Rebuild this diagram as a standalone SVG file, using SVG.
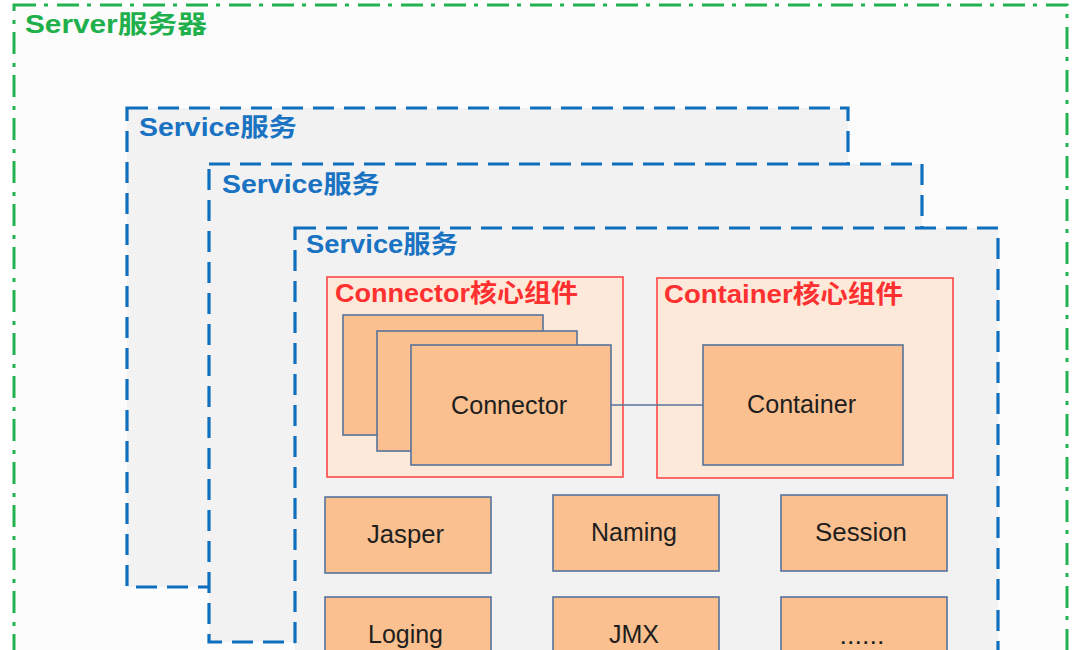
<svg xmlns="http://www.w3.org/2000/svg" width="1086" height="650" viewBox="0 0 1086 650">
<style>
.server{fill:#fcfcfc;stroke:#22b24f;stroke-width:3;stroke-dasharray:22 8 4 9}
.svc{fill:#f2f2f2;stroke:#0f6fbf;stroke-width:3.2;stroke-dasharray:21 10}
.core{fill:#fde9d9;stroke:#ff4646;stroke-width:1.6}
.node{fill:#fac090;stroke:#56739b;stroke-width:1.6}
.lbl{font-family:"Liberation Sans","Noto Sans CJK SC",sans-serif;font-weight:bold;font-size:25px}
.g{fill:#20b04b}
.b{fill:#1a72c2}
.r{fill:#ff3030}
.t{font-family:"Liberation Sans","Noto Sans CJK SC",sans-serif;font-size:26.5px;fill:#1e1e1e;text-anchor:middle}
.conn{stroke:#56739b;stroke-width:1.6;fill:none}
</style>
<rect width="1086" height="650" fill="#ffffff"/>
<g id="server">
<rect class="server" x="14" y="5" width="1053" height="670"/>
<text class="lbl g" x="25" y="33" textLength="182" lengthAdjust="spacingAndGlyphs">Server服务器</text>
</g>
<g id="service1">
<rect class="svc" x="127" y="108" width="721" height="479"/>
<text class="lbl b" x="139" y="136" textLength="158" lengthAdjust="spacingAndGlyphs">Service服务</text>
</g>
<g id="service2">
<rect class="svc" x="209" y="164" width="713" height="478"/>
<text class="lbl b" x="222" y="193" textLength="158" lengthAdjust="spacingAndGlyphs">Service服务</text>
</g>
<g id="service3">
<rect class="svc" x="295" y="228" width="703" height="450"/>
<text class="lbl b" x="306" y="253" textLength="152" lengthAdjust="spacingAndGlyphs">Service服务</text>
</g>
<g id="connector-core">
<rect class="core" x="327" y="277" width="296" height="200"/>
<text class="lbl r" x="335" y="302" textLength="243" lengthAdjust="spacingAndGlyphs">Connector核心组件</text>
</g>
<g id="connector-3">
<rect class="node" x="343" y="315" width="200" height="120"/>
</g>
<g id="connector-2">
<rect class="node" x="377" y="331" width="200" height="120"/>
</g>
<g id="connector">
<rect class="node" x="411" y="345" width="200" height="120"/>
<text class="t" x="509" y="414" textLength="116" lengthAdjust="spacingAndGlyphs">Connector</text>
</g>
<g id="container-core">
<rect class="core" x="657" y="278" width="296" height="200"/>
<text class="lbl r" x="664" y="303" textLength="239" lengthAdjust="spacingAndGlyphs">Container核心组件</text>
</g>
<g id="container">
<rect class="node" x="703" y="345" width="200" height="120"/>
<text class="t" x="801.5" y="413" textLength="109" lengthAdjust="spacingAndGlyphs">Container</text>
</g>
<g id="jasper">
<rect class="node" x="325" y="497" width="166" height="76"/>
<text class="t" x="405.5" y="543" textLength="77" lengthAdjust="spacingAndGlyphs">Jasper</text>
</g>
<g id="naming">
<rect class="node" x="553" y="495" width="166" height="76"/>
<text class="t" x="634" y="541" textLength="86" lengthAdjust="spacingAndGlyphs">Naming</text>
</g>
<g id="session">
<rect class="node" x="781" y="495" width="166" height="76"/>
<text class="t" x="861" y="541" textLength="92" lengthAdjust="spacingAndGlyphs">Session</text>
</g>
<g id="loging">
<rect class="node" x="325" y="597" width="166" height="76"/>
<text class="t" x="405.5" y="643" textLength="75" lengthAdjust="spacingAndGlyphs">Loging</text>
</g>
<g id="jmx">
<rect class="node" x="553" y="597" width="166" height="76"/>
<text class="t" x="634" y="643" textLength="50" lengthAdjust="spacingAndGlyphs">JMX</text>
</g>
<g id="more">
<rect class="node" x="781" y="597" width="166" height="76"/>
<text class="t" x="862" y="644" textLength="45" lengthAdjust="spacingAndGlyphs">......</text>
</g>
<g id="connectors">
<line class="conn" x1="611" y1="405" x2="703" y2="405"/>
</g>
</svg>
